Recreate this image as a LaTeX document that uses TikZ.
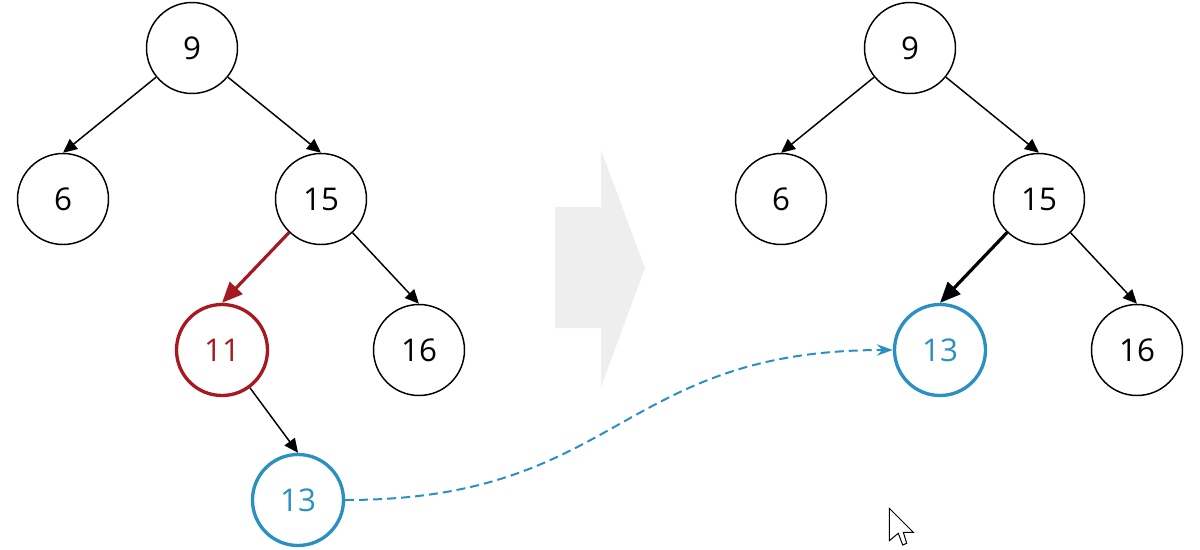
\documentclass[tikz,border=0pt]{standalone}
\usepackage{fontspec}
\setmainfont{Open Sans}
\usetikzlibrary{arrows.meta}
\definecolor{nred}{RGB}{166,25,30}
\definecolor{nblue}{RGB}{42,143,193}
\definecolor{arrowgray}{RGB}{238,238,238}
\begin{document}
\begin{tikzpicture}[x=0.75pt,y=-0.75pt,
  tn/.style={circle,draw,line width=1.1pt,minimum size=68.25pt,inner sep=0pt,font=\fontsize{23.5}{28}\selectfont},
  rn/.style={tn,draw=nred,text=nred,line width=2.5pt},
  bn/.style={tn,draw=nblue,text=nblue,line width=2.5pt},
  edge/.style={-{Triangle[length=10.5pt,width=9.5pt]},line width=1.1pt},
  thickedge/.style={-{Triangle[length=15.5pt,width=13pt]},line width=2.4pt},
  moveedge/.style={nblue,line width=1.5pt,dash pattern=on 6.75pt off 3.75pt,-{Stealth[length=12pt,width=8.5pt,inset=4pt]}}]
\useasboundingbox (0,0) rectangle (1200,550);
% big gray arrow
\fill[arrowgray] (555,207) -- (601,207) -- (601,150) -- (645,268) -- (601,387) -- (601,328) -- (555,328) -- cycle;
% left tree
\node[tn] (L9) at (192,48) {9};
\node[tn] (L6) at (63,199) {6};
\node[tn] (L15) at (321,199) {15};
\node[rn] (L11) at (222,350) {11};
\node[tn] (L16) at (419,350) {16};
\node[bn] (L13) at (298,500) {13};
\draw[edge] (L9) -- (L6.north);
\draw[edge] (L9) -- (L15.north);
\draw[thickedge,nred] (L15) -- (L11.north);
\draw[edge] (L15) -- (L16.north);
\draw[edge] (L11) -- (L13.north);
% right tree
\node[tn] (R9) at (910,48) {9};
\node[tn] (R6) at (781,199) {6};
\node[tn] (R15) at (1039,199) {15};
\node[bn] (R13) at (940,350) {13};
\node[tn] (R16) at (1137,350) {16};
\draw[edge] (R9) -- (R6.north);
\draw[edge] (R9) -- (R15.north);
\draw[thickedge] (R15) -- (R13.north);
\draw[edge] (R15) -- (R16.north);
% move connector
\draw[moveedge] (L13.east) .. controls +(275,0) and +(-275,0) .. (R13.west);
% mouse cursor
\draw[fill=white,line width=0.75pt,line join=miter] (889.3,508.3) -- (889.3,540.7) -- (898.3,533.3) -- (902.7,545) -- (906.7,543.3) -- (903.3,532.3) -- (913.3,532.3) -- cycle;
\end{tikzpicture}
\end{document}
